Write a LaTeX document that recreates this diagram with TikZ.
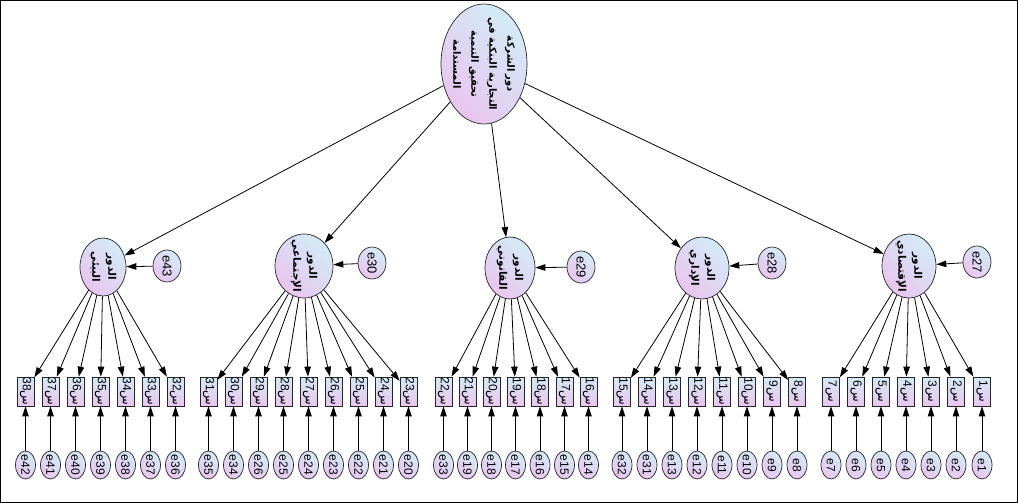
\documentclass[tikz,border=0pt]{standalone}
\usepackage{fontspec}
\setmainfont{Liberation Sans}
\newfontfamily\arabicfont[Script=Arabic]{DejaVu Sans}
\TeXXeTstate=1
\usetikzlibrary{arrows.meta,shapes.geometric}
\definecolor{shadeTop}{HTML}{D3EBF6}
\definecolor{shadeBot}{HTML}{E9C5EF}
% one right-to-left line
\newcommand\rtl[1]{\beginR #1\endR}
\begin{document}
\begin{tikzpicture}[x=1pt,y=-1pt,
  latent/.style={ellipse, draw=black!85, line width=0.7pt, inner sep=0pt,
    top color=shadeTop, bottom color=shadeBot, shading angle=-45},
  vtext/.style={rotate=-90, inner sep=0pt, align=center},
  factorlbl/.style={vtext, font=\arabicfont\bfseries\fontsize{10.5}{16}\selectfont},
  indicator/.style={rectangle, draw=black!85, line width=0.7pt, inner sep=0pt,
    top color=shadeTop, bottom color=shadeBot,
    minimum width=17pt, minimum height=29pt},
  residual/.style={latent, minimum width=20pt, minimum height=28pt},
  sideres/.style={latent, minimum width=28pt, minimum height=32pt},
  link/.style={-{Triangle[length=10pt,width=6.5pt]}, line width=0.8pt, black},
]
\useasboundingbox (0,0) rectangle (1018,503);
\draw[line width=1.2pt] (0.6,0.6) rectangle (1017.4,502.4);

% second-order factor
\node[latent, minimum width=86pt, minimum height=120pt] (goal) at (484,64) {};
\node[vtext, font=\arabicfont\bfseries\fontsize{10}{18}\selectfont] (goalt) at (goal)
  {\rtl{دور الشركة}\\
   \rtl{التجارية البنكية في}\\
   \rtl{تحقيق التنمية}\\
   \rtl{المستدامة}};

% first-order factors
\node[latent, minimum width=46pt, minimum height=58pt] (envf) at (103,267) {};
\node[latent, minimum width=58pt, minimum height=64pt] (socf) at (304,266) {};
\node[latent, minimum width=50pt, minimum height=62pt] (legf) at (510,268) {};
\node[latent, minimum width=54pt, minimum height=62pt] (admf) at (702,268) {};
\node[latent, minimum width=54pt, minimum height=64pt] (ecof) at (909,266) {};
\node[factorlbl] (envt) at (envf) {\rtl{الدور}\\ \rtl{البيئي}};
\node[factorlbl] (soct) at (socf) {\rtl{الدور}\\ \rtl{الإجتماعي}};
\node[factorlbl] (legt) at (legf) {\rtl{الدور}\\ \rtl{القانوني}};
\node[factorlbl] (admt) at (admf) {\rtl{الدور}\\ \rtl{الإداري}};
\node[factorlbl] (ecot) at (ecof) {\rtl{الدور}\\ \rtl{الإقتصادي}};

% disturbances of the first-order factors
\foreach \e/\x/\y in {e43/167/266, e30/372/263, e29/581/267, e28/772/263, e27/977/262} {
  \node[sideres] (\e) at (\x,\y) {};
  \node[vtext, font=\fontsize{13}{13}\selectfont] (\e t) at (\e) {\e};
}

\foreach \f in {envf,socf,legf,admf,ecof}
  \draw[link] (goal) -- (\f);
\draw[link] (e43) -- (envf);
\draw[link] (e30) -- (socf);
\draw[link] (e29) -- (legf);
\draw[link] (e28) -- (admf);
\draw[link] (e27) -- (ecof);

% indicators with their measurement errors
\foreach \fac/\items in {
  envf/{25.5/38/e42,50.5/37/e41,75.5/36/e40,100.5/35/e39,125.5/34/e38,150.5/33/e37,175.5/32/e36},
  socf/{208.5/31/e35,233.5/30/e34,258.5/29/e26,283.5/28/e25,308.5/27/e24,333.5/26/e23,358.5/25/e22,383.5/24/e21,408.5/23/e20},
  legf/{443.5/22/e33,467.5/21/e19,491.5/20/e18,515.5/19/e17,540/18/e16,564.5/17/e15,588.5/16/e14},
  admf/{622/15/e32,647/14/e31,672/13/e13,697/12/e12,722/11/e11,747/10/e10,772/9/e9,797/8/e8},
  ecof/{831/7/e7,856/6/e6,881/5/e5,906/4/e4,931/3/e3,956/2/e2,982/1/e1}}
{
  \foreach \x/\num/\err in \items {
    \node[indicator] (q\num) at (\x,391.5) {};
    \node[vtext, font=\fontsize{12}{12}\selectfont] (q\num t) at (q\num)
      {\rtl{{\arabicfont س}\beginL\num\endL}};
    \node[residual] (\err) at (\x,465) {};
    \node[vtext, font=\fontsize{12}{12}\selectfont] (\err t) at (\err) {\err};
    \draw[link] (\fac) -- (q\num);
    \draw[link] (\err) -- (q\num);
  }
}
\end{tikzpicture}
\end{document}
